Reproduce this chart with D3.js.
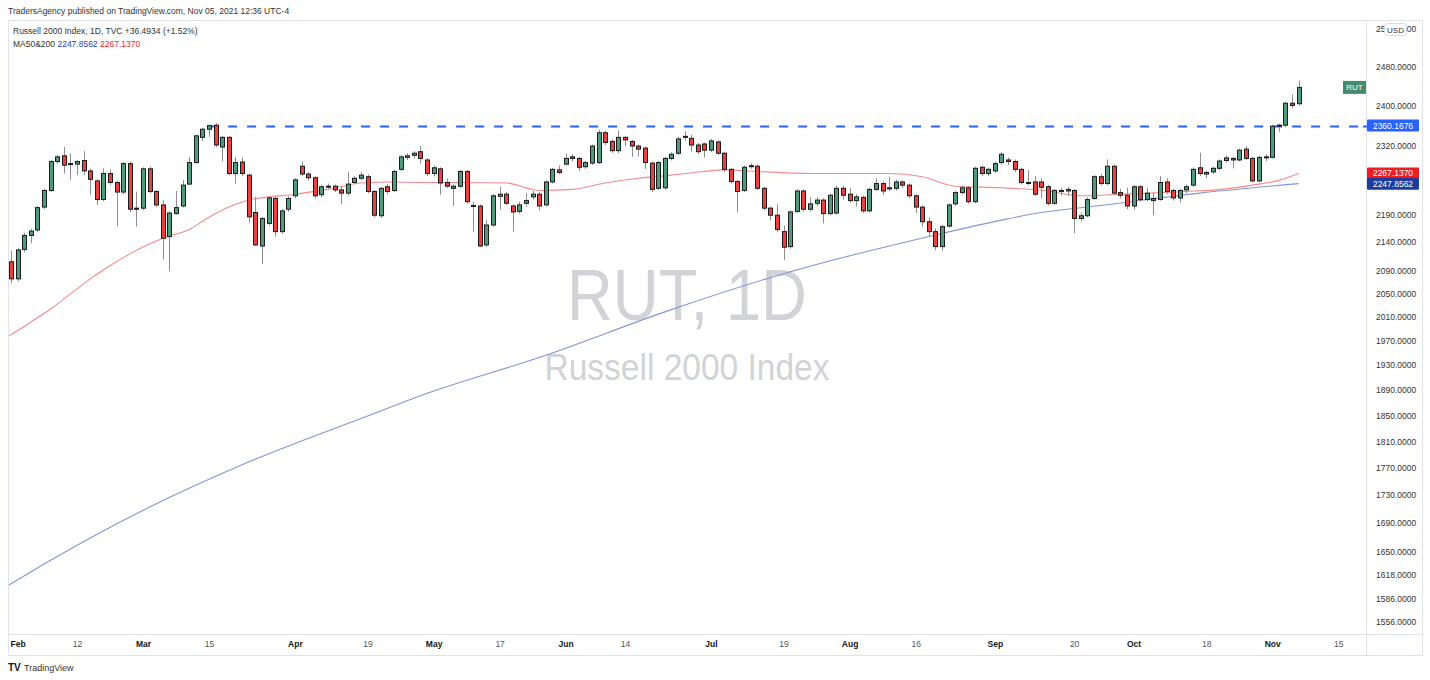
<!DOCTYPE html>
<html><head><meta charset="utf-8">
<script src="https://cdn.jsdelivr.net/npm/d3@7"></script>
<style>
body{margin:0;background:#fff}
svg{display:block}
text{font-family:"Liberation Sans",Arial,sans-serif}
</style>
</head><body>
<svg id="c" width="1430" height="680"></svg>
<script>
// ---- DATA ----
const dates = ("01-29 02-01 02-02 02-03 02-04 02-05 02-08 02-09 02-10 02-11 02-12 02-16 02-17 02-18 02-19 02-22 02-23 02-24 02-25 02-26 " +
"03-01 03-02 03-03 03-04 03-05 03-08 03-09 03-10 03-11 03-12 03-15 03-16 03-17 03-18 03-19 03-22 03-23 03-24 03-25 03-26 03-29 03-30 03-31 " +
"04-01 04-05 04-06 04-07 04-08 04-09 04-12 04-13 04-14 04-15 04-16 04-19 04-20 04-21 04-22 04-23 04-26 04-27 04-28 04-29 04-30 " +
"05-03 05-04 05-05 05-06 05-07 05-10 05-11 05-12 05-13 05-14 05-17 05-18 05-19 05-20 05-21 05-24 05-25 05-26 05-27 05-28 " +
"06-01 06-02 06-03 06-04 06-07 06-08 06-09 06-10 06-11 06-14 06-15 06-16 06-17 06-18 06-21 06-22 06-23 06-24 06-25 06-28 06-29 06-30 " +
"07-01 07-02 07-06 07-07 07-08 07-09 07-12 07-13 07-14 07-15 07-16 07-19 07-20 07-21 07-22 07-23 07-26 07-27 07-28 07-29 07-30 " +
"08-02 08-03 08-04 08-05 08-06 08-09 08-10 08-11 08-12 08-13 08-16 08-17 08-18 08-19 08-20 08-23 08-24 08-25 08-26 08-27 08-30 08-31 " +
"09-01 09-02 09-03 09-07 09-08 09-09 09-10 09-13 09-14 09-15 09-16 09-17 09-20 09-21 09-22 09-23 09-24 09-27 09-28 09-29 09-30 " +
"10-01 10-04 10-05 10-06 10-07 10-08 10-11 10-12 10-13 10-14 10-15 10-18 10-19 10-20 10-21 10-22 10-25 10-26 10-27 10-28 10-29 " +
"11-01 11-02 11-03 11-04 11-05").split(" ").map(s => "2021-" + s);

const open = [2105,2075,2127,2152,2162,2204,2235,2290,2301,2285,2285,2292,2272,2253,2218,2267,2250,2232,2286,2200,
 2202,2276,2233,2208,2150,2192,2206,2247,2288,2337,2353,2361,2318,2337,2267,2289,2264,2194,2133,2174,2220,2159,2200,
 2225,2281,2266,2259,2227,2242,2243,2236,2230,2250,2258,2261,2233,2188,2242,2235,2275,2298,2302,2309,2293,
 2267,2276,2250,2239,2243,2271,2205,2206,2135,2171,2224,2228,2206,2196,2211,2223,2228,2208,2251,2274,
 2285,2299,2296,2280,2287,2288,2346,2329,2311,2337,2329,2320,2316,2287,2239,2240,2296,2306,2337,2335,2322,2324,
 2312,2328,2306,2275,2252,2235,2281,2281,2239,2202,2189,2159,2132,2196,2234,2200,2211,2217,2192,2193,2239,
 2228,2216,2222,2197,2237,2248,2238,2239,2251,2245,2225,2204,2177,2159,2132,2169,2210,2231,2240,2214,2279,2267,
 2272,2288,2293,2290,2275,2249,2251,2251,2242,2211,2234,2234,2235,2183,2188,2220,2261,2248,2281,2231,2226,
 2206,2242,2218,2220,2218,2251,2235,2221,2236,2245,2278,2266,2270,2277,2292,2296,2293,2314,2296,2253,2297,
 2298,2359,2361,2405,2404];
const high = [2125,2130,2157,2164,2206,2238,2293,2303,2318,2306,2293,2310,2276,2256,2277,2275,2254,2289,2290,2233,
 2279,2280,2236,2217,2196,2234,2255,2299,2342,2356,2362,2365,2340,2340,2299,2298,2267,2223,2186,2224,2224,2200,2224,
 2258,2290,2270,2262,2246,2248,2246,2242,2270,2262,2270,2265,2236,2242,2247,2274,2302,2306,2310,2320,2296,
 2282,2279,2258,2246,2274,2274,2214,2209,2180,2228,2242,2232,2209,2214,2230,2234,2232,2254,2278,2282,
 2305,2304,2299,2291,2323,2352,2350,2333,2351,2340,2332,2323,2319,2290,2291,2299,2308,2338,2349,2342,2326,2327,
 2334,2331,2309,2278,2255,2282,2287,2284,2242,2205,2209,2170,2198,2237,2237,2222,2222,2220,2229,2244,2244,
 2240,2228,2225,2240,2258,2252,2261,2255,2254,2248,2228,2207,2185,2165,2171,2211,2234,2244,2243,2280,2282,2278,
 2290,2308,2298,2294,2278,2274,2262,2258,2245,2238,2240,2242,2238,2194,2222,2264,2266,2294,2284,2238,2240,
 2245,2245,2240,2232,2262,2258,2238,2238,2246,2278,2307,2272,2280,2294,2302,2299,2315,2320,2299,2301,2304,
 2362,2364,2408,2423,2451];
const low = [2067,2070,2122,2138,2158,2200,2232,2286,2267,2255,2264,2264,2227,2208,2215,2245,2169,2228,2195,2168,
 2198,2230,2204,2109,2088,2190,2203,2245,2286,2330,2338,2318,2290,2264,2248,2262,2175,2133,2101,2170,2150,2155,2195,
 2220,2262,2254,2220,2222,2238,2232,2209,2226,2247,2254,2230,2185,2184,2228,2232,2272,2293,2296,2286,2262,
 2262,2227,2240,2206,2240,2210,2159,2131,2131,2168,2199,2208,2159,2192,2205,2218,2198,2205,2248,2265,
 2282,2290,2272,2276,2283,2285,2322,2307,2306,2320,2299,2300,2276,2232,2236,2236,2292,2303,2330,2309,2304,2298,
 2308,2302,2270,2248,2194,2232,2276,2236,2198,2180,2158,2108,2128,2193,2196,2196,2206,2174,2189,2190,2218,
 2212,2205,2193,2194,2234,2226,2234,2235,2240,2221,2193,2168,2150,2126,2124,2166,2206,2227,2210,2211,2262,2262,
 2268,2284,2283,2270,2246,2245,2225,2220,2207,2208,2225,2225,2156,2178,2185,2217,2245,2245,2226,2220,2200,
 2199,2214,2215,2189,2216,2228,2216,2212,2230,2242,2262,2258,2266,2274,2288,2277,2290,2293,2250,2250,2291,
 2296,2348,2357,2395,2400];
const close = [2075,2126,2152,2160,2203,2235,2290,2299,2283,2286,2290,2272,2256,2218,2267,2250,2232,2286,2200,2202,
 2276,2233,2208,2147,2193,2203,2245,2288,2340,2353,2360.17,2322,2337,2267,2288,2267,2186,2135,2183,2221,2159,2197,2220,
 2255,2266,2259,2225,2242,2243,2236,2230,2247,2258,2264,2233,2189,2239,2233,2271,2299,2301,2306,2296,2267,
 2278,2249,2243,2243,2271,2214,2207,2133,2171,2225,2228,2211,2195,2208,2216,2228,2206,2251,2275,2269,
 2296,2296,2279,2288,2320,2346,2327,2311,2337,2332,2320,2314,2288,2237,2288,2296,2304,2334,2339,2322,2309,2312,
 2330,2306,2275,2252,2233,2279,2282,2239,2202,2189,2163,2131,2195,2234,2200,2210,2217,2192,2226,2239,2226,
 2216,2223,2197,2237,2248,2234,2240,2251,2245,2225,2204,2177,2159,2132,2168,2208,2231,2240,2214,2277,2267,2275,
 2286,2304,2290,2275,2250,2250,2228,2241,2211,2235,2235,2237,2183,2188,2218,2261,2248,2281,2230,2226,2206,
 2242,2218,2230,2216,2250,2233,2221,2235,2242,2275,2267,2269,2277,2291,2297,2293,2312,2296,2253,2298,2299,
 2359,2361,2405,2400.69,2437.18];

// moving averages (bar index -> value)
const ma50Idx = [-1,0,3,6,9,12,15,18,21,24,27,29,33,36,43,48,53,58,63,68,75,80,85,90,95,100,105,108,113,122,133,138,143,150,157,162,170,178,184,188,192,195];
const ma50Val = [1974,1980,2001,2023,2049,2075,2098,2119,2137,2151,2163,2178,2204,2217,2228,2237,2249,2251,2250,2250,2249,2235,2237,2249,2258,2264,2271,2274,2271,2267,2267,2261,2243,2240,2234,2225,2229,2233,2238,2245,2254,2267.137];
const ma200Idx = [-1,0,6,21,35,56,61,81,100,117,140,150,155,165,180,195];
const ma200Val = [1601,1606,1638,1713,1775,1857,1877,1946,2022,2084,2153,2180,2192,2207,2230,2247.8562];

const yTickValues = [2560,2480,2400,2320,2190,2140,2090,2050,2010,1970,1930,1890,1850,1810,1770,1730,1690,1650,1618,1586,1556];
const xTickIdx = [1,10,20,30,43,54,64,74,84,93,106,117,127,137,149,161,170,181,191,201];
const xTickLabels = ["Feb","12","Mar","15","Apr","19","May","17","Jun","14","Jul","19","Aug","16","Sep","20","Oct","18","Nov","15"];
const resistanceLevel = 2360.1676;
const resistanceStartIdx = 30;
const lastMA50 = 2267.1370, lastMA200 = 2247.8562;
const priceChange = "+36.4934 (+1.52%)";

// ---- LAYOUT ----
const L = 8, R = 1366, T = 20, B = 634;
const svg = d3.select("#c");
const x = d3.scaleLinear().domain([-0.45, 205.2]).range([L, R]);
const y = d3.scaleLog().domain([1539.6, 2579.2]).range([B, T]);

// frame
const frame = svg.append("g").attr("stroke", "#e0e3eb").attr("fill", "none");
frame.append("rect").attr("x", L + 0.5).attr("y", T + 0.5).attr("width", 1422 - L).attr("height", 655 - T);
frame.append("line").attr("x1", R + 0.5).attr("x2", R + 0.5).attr("y1", T).attr("y2", 655);
frame.append("line").attr("x1", L).attr("x2", 1422).attr("y1", B + 0.5).attr("y2", B + 0.5);

// clip
svg.append("defs").append("clipPath").attr("id", "plot")
  .append("rect").attr("x", L + 1).attr("y", T + 1).attr("width", R - L - 1).attr("height", B - T - 1);

// watermark
svg.append("text").attr("x", (L + R) / 2).attr("y", 320).attr("text-anchor", "middle")
  .attr("font-size", 72).attr("fill", "#d1d3d7").attr("textLength", 240).attr("lengthAdjust", "spacingAndGlyphs").text("RUT, 1D");
svg.append("text").attr("x", (L + R) / 2).attr("y", 380).attr("text-anchor", "middle")
  .attr("font-size", 36).attr("fill", "#d1d3d7").attr("textLength", 285).attr("lengthAdjust", "spacingAndGlyphs").text("Russell 2000 Index");

const plot = svg.append("g").attr("clip-path", "url(#plot)");

// moving averages
const line = d3.line().x(d => x(d[0])).y(d => y(d[1])).curve(d3.curveMonotoneX);
plot.append("path").datum(ma200Idx.map((k, i) => [k, ma200Val[i]]))
  .attr("d", line).attr("fill", "none").attr("stroke", "#8496da").attr("stroke-width", 1.1);
plot.append("path").datum(ma50Idx.map((k, i) => [k, ma50Val[i]]))
  .attr("d", line).attr("fill", "none").attr("stroke", "#f48b8b").attr("stroke-width", 1.1);

// resistance dashed line
plot.append("line").attr("x1", x(resistanceStartIdx)).attr("x2", R + 4)
  .attr("y1", Math.round(y(resistanceLevel)) + 0.5).attr("y2", Math.round(y(resistanceLevel)) + 0.5)
  .attr("stroke", "#2962ff").attr("stroke-width", 2).attr("stroke-dasharray", "9,10");

// candles
const bars = dates.map((d, i) => ({ d, j: i, o: open[i], h: high[i], l: low[i], c: close[i] }));
const cx = d => Math.round(x(d.j));
plot.selectAll("line.wick").data(bars).join("line").attr("class", "wick")
  .attr("x1", d => cx(d) + 0.5).attr("x2", d => cx(d) + 0.5)
  .attr("y1", d => y(d.h)).attr("y2", d => y(d.l))
  .attr("stroke", "#8f8f8f").attr("stroke-width", 1);
plot.selectAll("rect.body").data(bars).join("rect").attr("class", "body")
  .attr("x", d => cx(d) - 1.5).attr("width", 4)
  .attr("y", d => y(Math.max(d.o, d.c)))
  .attr("height", d => Math.max(1, Math.abs(y(d.o) - y(d.c))))
  .attr("fill", d => d.c >= d.o ? "#4f9b7c" : "#ec3f3f")
  .attr("stroke", "#1c1c1c").attr("stroke-width", 1);

// y axis
const yAxis = d3.axisRight(y).tickValues(yTickValues).tickFormat(d => d.toFixed(4)).tickSize(0).tickPadding(10);
const gy = svg.append("g").attr("transform", `translate(${R},0)`).call(yAxis);
gy.select(".domain").remove();
gy.selectAll("text").attr("font-size", 8.5).attr("fill", "#333").attr("font-family", "Liberation Sans, Arial, sans-serif");

// x axis
const xAxis = d3.axisBottom(x).tickValues(xTickIdx).tickFormat((d, i) => xTickLabels[i]).tickSize(0).tickPadding(7);
const gx = svg.append("g").attr("transform", `translate(0,${B})`).call(xAxis);
gx.select(".domain").remove();
gx.selectAll("text").attr("font-size", 8.5).attr("fill", (d, i) => isNaN(+xTickLabels[i]) ? "#131722" : "#555")
  .attr("font-weight", (d, i) => isNaN(+xTickLabels[i]) ? "bold" : "normal")
  .attr("font-family", "Liberation Sans, Arial, sans-serif");

// USD badge (covers the middle of the top price label, as in the original)
svg.append("rect").attr("x", 1384.5).attr("y", 23.5).attr("width", 22).attr("height", 12).attr("rx", 3)
  .attr("fill", "#fff").attr("stroke", "#d6d9e0");
svg.append("text").attr("x", 1395.5).attr("y", 32.5).attr("text-anchor", "middle").attr("font-size", 8).attr("fill", "#333").text("USD");

// price labels
function priceTag(v, fill, label) {
  const yy = y(v);
  svg.append("rect").attr("x", R + 1).attr("y", yy - 6).attr("width", 52).attr("height", 12).attr("rx", 1).attr("fill", fill);
  svg.append("text").attr("x", R + 27).attr("y", yy + 3).attr("text-anchor", "middle").attr("font-size", 8.5)
    .attr("fill", "#fff").text(label);
}
priceTag(resistanceLevel, "#2962ff", resistanceLevel.toFixed(4));
priceTag(lastMA50, "#ee1d23", lastMA50.toFixed(4));
priceTag(lastMA200, "#1e3c9a", lastMA200.toFixed(4));
svg.append("line").attr("x1", R - 3).attr("x2", R + 1).attr("y1", Math.round(y(resistanceLevel)) + 0.5).attr("y2", Math.round(y(resistanceLevel)) + 0.5)
  .attr("stroke", "#2962ff").attr("stroke-width", 2);

// RUT tag at last close
const lastClose = close[close.length - 1];
svg.append("rect").attr("x", R - 23).attr("y", y(lastClose) - 6.5).attr("width", 23).attr("height", 13).attr("fill", "#468b6c");
svg.append("text").attr("x", R - 11.5).attr("y", y(lastClose) + 3).attr("text-anchor", "middle").attr("font-size", 8)
  .attr("fill", "#fff").text("RUT");

// header + legend
svg.append("text").attr("x", 8).attr("y", 14).attr("font-size", 8.5).attr("fill", "#333")
  .text("TradersAgency published on TradingView.com, Nov 05, 2021 12:36 UTC-4");
const lg = svg.append("text").attr("x", 13).attr("y", 34).attr("font-size", 8.5).attr("fill", "#333");
lg.append("tspan").text("Russell 2000 Index, 1D, TVC  ");
lg.append("tspan").text(priceChange);
const lg2 = svg.append("text").attr("x", 13).attr("y", 47).attr("font-size", 8.5).attr("fill", "#333");
lg2.append("tspan").text("MA50&200  ");
lg2.append("tspan").attr("fill", "#1e3fbf").text(lastMA200.toFixed(4) + "  ");
lg2.append("tspan").attr("fill", "#f01d1d").text(lastMA50.toFixed(4));

// TradingView footer
svg.append("text").attr("x", 8).attr("y", 671).attr("font-size", 10).attr("font-weight", "bold").attr("fill", "#131722").text("TV");
svg.append("text").attr("x", 24).attr("y", 671).attr("font-size", 9).attr("fill", "#333").text("TradingView");
</script>
</body></html>
